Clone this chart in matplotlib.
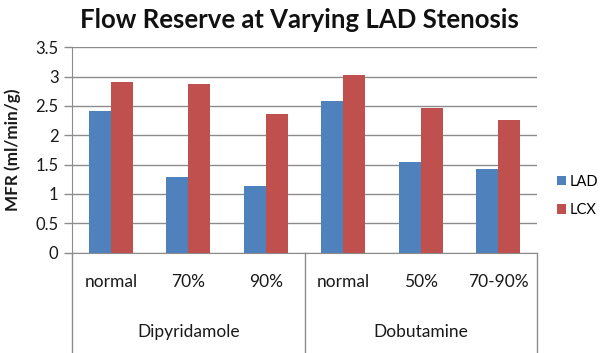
import matplotlib
matplotlib.use("Agg")
import matplotlib.pyplot as plt
import numpy as np
from matplotlib.lines import Line2D

categories = ["normal", "70%", "90%", "normal", "50%", "70-90%"]
groups = ["Dipyridamole", "Dobutamine"]
group_sizes = [3, 3]
lad = [2.42, 1.29, 1.13, 2.58, 1.55, 1.42]
lcx = [2.90, 2.87, 2.36, 3.03, 2.46, 2.26]
yticks = [0, 0.5, 1, 1.5, 2, 2.5, 3, 3.5]
ytick_labels = ["0", "0.5", "1", "1.5", "2", "2.5", "3", "3.5"]

plt.rcParams['font.family'] = ['Lato', 'DejaVu Sans']

fig = plt.figure(figsize=(6, 3.53), dpi=100)
ax = fig.add_axes([0.1205, 0.2847, 0.774, 0.5813])

blue = "#4F81BD"
red = "#C0504D"
grid_c = "#8C8C8C"
txt_c = "#1a1a1a"

x = np.arange(len(categories))
w = 0.285
ax.bar(x - w / 2, lad, w, color=blue, label="LAD", zorder=3)
ax.bar(x + w / 2, lcx, w, color=red, label="LCX", zorder=3)

ax.set_xlim(-0.5, len(categories) - 0.5)
ax.set_ylim(0, 3.5)
ax.set_yticks(yticks)
ax.set_yticklabels(ytick_labels, fontsize=12, color=txt_c)
ax.set_xticks([])
ax.yaxis.grid(True, color=grid_c, linewidth=1.0, zorder=0)
ax.set_axisbelow(True)
for s in ["top", "right"]:
    ax.spines[s].set_visible(False)
ax.spines["left"].set_color(grid_c)
ax.spines["bottom"].set_color(grid_c)
ax.tick_params(axis="y", length=6, color=grid_c, width=1.0, pad=4)

ax.set_ylabel("MFR (ml/min/g)", fontsize=12.3, fontweight="bold", color=txt_c)
ax.yaxis.set_label_coords(-0.11, 0.5)

# category labels
trans = ax.get_xaxis_transform()
for xi, c in zip(x, categories):
    ax.text(xi, -0.146, c, transform=trans, ha="center", va="center",
            fontsize=12.5, color=txt_c)

# group labels and separators
start = 0
bounds = [-0.5]
for g, n in zip(groups, group_sizes):
    center = start + (n - 1) / 2
    ax.text(center, -0.386, g, transform=trans, ha="center", va="center",
            fontsize=12.5, color=txt_c)
    start += n
    bounds.append(start - 0.5)
for b in bounds:
    ax.add_line(Line2D([b, b], [0, -0.5], transform=trans, color=grid_c,
                       linewidth=1.0, clip_on=False))

fig.suptitle("Flow Reserve at Varying LAD Stenosis", x=0.4985, y=0.978,
             fontsize=18.5, fontweight="bold", color="#111111")

leg = fig.legend(loc="center left", bbox_to_anchor=(0.928, 0.445), frameon=False,
                 fontsize=10.5, handlelength=0.6, handleheight=0.6,
                 handletextpad=0.3, labelspacing=1.0, borderpad=0,
                 borderaxespad=0)

fig.savefig("out.png", dpi=100)
